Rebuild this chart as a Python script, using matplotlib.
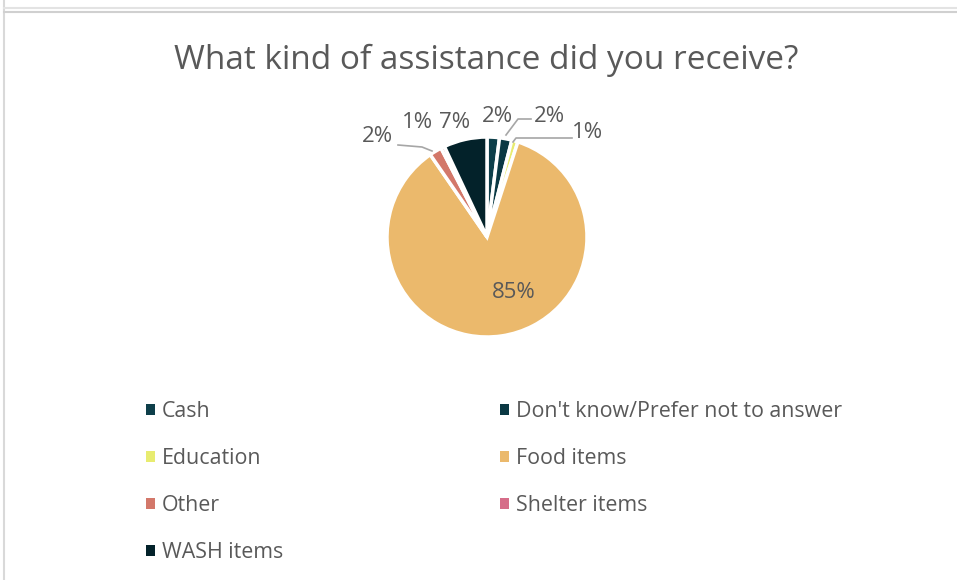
import numpy as np
import matplotlib.pyplot as plt
from matplotlib.patches import Patch
from matplotlib.lines import Line2D

plt.rcParams['font.family'] = ['Open Sans', 'DejaVu Sans']

categories = ["Cash", "Don't know/Prefer not to answer", "Education", "Food items",
              "Other", "Shelter items", "WASH items"]
shares = [2, 2, 1, 85.4, 2, 0.6, 7]
labels = ["2%", "2%", "1%", "85%", "2%", "1%", "7%"]
colors = ["#0e3f4a", "#0a3843", "#e8ec70", "#ebb96c", "#d3786a", "#d66d89", "#03222a"]

grey = "#595959"

fig = plt.figure(figsize=(9.57, 5.8), dpi=100)
W, H = 957, 580

# frame lines of the screenshot
fig.add_artist(Line2D([4 / W, 4 / W], [0, 1], color="#d9d9d9", lw=1.5))
fig.add_artist(Line2D([4 / W, 1], [1 - 8 / H, 1 - 8 / H], color="#e3e3e3", lw=1.5))
fig.add_artist(Line2D([4 / W, 1], [1 - 12 / H, 1 - 12 / H], color="#d0d0d0", lw=1.5))

fig.text(486 / W, 1 - 60 / H, "What kind of assistance did you receive?",
         ha="center", va="center", fontsize=24, color=grey)

# pie, center (487,237) px, radius 100 px
cx, cy, r = 487, 237, 100
ax = fig.add_axes([(cx - r) / W, 1 - (cy + r) / H, 2 * r / W, 2 * r / H])
wedges, _ = ax.pie(shares, colors=colors, startangle=90, counterclock=False,
                   radius=1, wedgeprops=dict(edgecolor="white", linewidth=2.5))
ax.set_xlim(-1, 1)
ax.set_ylim(-1, 1)
ax.set_aspect("auto")
ax.axis("off")


def px(x, y):
    return ((x - cx) / r, (cy - y) / r)


# label positions (pixel) and leader lines
label_px = [(497, 116), (549, 116), (588, 132), (514, 293), (377, 137), (418, 122), (455, 122)]
leaders = {
    1: [(531, 119), (518, 119), (506, 135)],
    2: [(572, 138), (516, 138), (513, 142)],
    4: [(398, 145), (422, 147), (432, 151)],
}
for i, (lab, (lx, ly)) in enumerate(zip(labels, label_px)):
    x, y = px(lx, ly)
    ax.text(x, y, lab, ha="center", va="center", fontsize=16, color=grey, clip_on=False)
for i, pts in leaders.items():
    xs, ys = zip(*[px(a, b) for a, b in pts])
    ax.plot(xs, ys, color="#a6a6a6", lw=1.2, clip_on=False)

order = [0, 2, 4, 6, 1, 3, 5]
handles = [Patch(facecolor=colors[i], label=categories[i]) for i in order]
fig.legend(handles=handles, ncol=2, loc="upper left",
           bbox_to_anchor=(146 / W, 1 - 401 / H), frameon=False, borderpad=0,
           borderaxespad=0, fontsize=15.4, labelcolor=grey, handlelength=0.42,
           handleheight=0.42, handletextpad=0.33, labelspacing=1.22, columnspacing=10.15)

fig.savefig("out.png", dpi=100)
